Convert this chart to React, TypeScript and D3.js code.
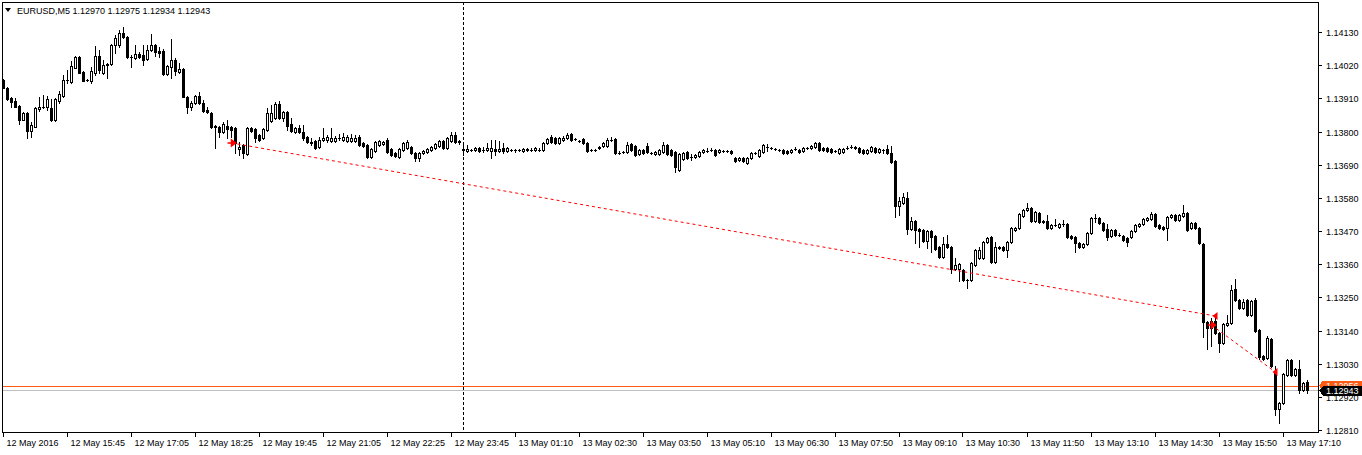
import React from "react";
import * as d3 from "d3";

const symbolTitle = "EURUSD,M5";
const titleValues = ["1.12970", "1.12975", "1.12934", "1.12943"];

// [open, high, low, close] for each M5 bar
const candles: [number, number, number, number][] = [
[1.13971,1.13974,1.13944,1.13944],[1.13944,1.13948,1.13904,1.13908],[1.13911,1.13914,1.13881,1.13898],[1.13901,1.13911,1.13881,1.13881],
[1.13885,1.13888,1.13825,1.13838],[1.13838,1.13865,1.13838,1.13861],[1.13861,1.13865,1.13778,1.13802],[1.13802,1.13832,1.13782,1.13822],
[1.13815,1.13881,1.13815,1.13878],[1.13875,1.13914,1.13868,1.13881],[1.13881,1.13921,1.13878,1.13881],[1.13881,1.13918,1.13871,1.13908],
[1.13878,1.13908,1.13835,1.13838],[1.13838,1.13911,1.13835,1.13908],[1.13901,1.13934,1.13895,1.13924],[1.13918,1.13987,1.13914,1.13971],
[1.13971,1.14004,1.13961,1.13971],[1.13964,1.14034,1.13961,1.14017],[1.14011,1.14050,1.14011,1.14047],[1.14047,1.14050,1.13994,1.13994],
[1.13997,1.14001,1.13967,1.13967],[1.13971,1.13974,1.13967,1.13971],[1.13967,1.14014,1.13961,1.14001],[1.13994,1.14084,1.13987,1.14050],
[1.14050,1.14070,1.13994,1.14004],[1.13994,1.14037,1.13991,1.14020],[1.14024,1.14027,1.13977,1.14020],[1.14024,1.14090,1.14020,1.14087],
[1.14087,1.14120,1.14060,1.14110],[1.14087,1.14137,1.14080,1.14127],[1.14127,1.14147,1.14110,1.14113],[1.14113,1.14117,1.14044,1.14047],
[1.14047,1.14054,1.14014,1.14047],[1.14044,1.14087,1.14040,1.14057],[1.14057,1.14064,1.14044,1.14047],[1.14054,1.14087,1.14020,1.14037],
[1.14040,1.14087,1.14037,1.14070],[1.14070,1.14123,1.14067,1.14087],[1.14087,1.14090,1.14050,1.14064],[1.14067,1.14080,1.14047,1.14060],
[1.14067,1.14074,1.13987,1.13991],[1.13991,1.14020,1.13987,1.14017],[1.14014,1.14107,1.13977,1.14037],[1.14037,1.14044,1.13987,1.14001],
[1.13997,1.14027,1.13994,1.14007],[1.14007,1.14011,1.13914,1.13914],[1.13914,1.13918,1.13861,1.13881],[1.13881,1.13901,1.13871,1.13895],
[1.13895,1.13921,1.13891,1.13918],[1.13918,1.13931,1.13891,1.13895],[1.13895,1.13904,1.13865,1.13868],[1.13871,1.13881,1.13861,1.13865],
[1.13861,1.13865,1.13812,1.13815],[1.13818,1.13822,1.13745,1.13815],[1.13815,1.13818,1.13782,1.13798],[1.13798,1.13832,1.13795,1.13825],
[1.13818,1.13838,1.13778,1.13808],[1.13815,1.13818,1.13782,1.13805],[1.13812,1.13815,1.13729,1.13762],[1.13742,1.13765,1.13722,1.13749],
[1.13755,1.13759,1.13712,1.13729],[1.13725,1.13815,1.13722,1.13812],[1.13812,1.13815,1.13798,1.13802],[1.13808,1.13812,1.13765,1.13778],
[1.13788,1.13792,1.13768,1.13772],[1.13778,1.13812,1.13775,1.13808],[1.13805,1.13878,1.13802,1.13861],[1.13835,1.13888,1.13832,1.13861],
[1.13845,1.13898,1.13841,1.13891],[1.13891,1.13901,1.13841,1.13845],[1.13845,1.13868,1.13835,1.13865],[1.13865,1.13868,1.13805,1.13818],
[1.13825,1.13845,1.13798,1.13802],[1.13798,1.13815,1.13795,1.13812],[1.13812,1.13822,1.13795,1.13798],[1.13798,1.13822,1.13772,1.13778],
[1.13782,1.13785,1.13762,1.13765],[1.13765,1.13778,1.13755,1.13762],[1.13768,1.13772,1.13742,1.13745],[1.13749,1.13782,1.13745,1.13772],
[1.13772,1.13812,1.13768,1.13778],[1.13772,1.13788,1.13765,1.13782],[1.13768,1.13812,1.13765,1.13778],[1.13768,1.13785,1.13765,1.13778],
[1.13778,1.13792,1.13772,1.13778],[1.13772,1.13795,1.13768,1.13782],[1.13768,1.13788,1.13765,1.13782],[1.13768,1.13792,1.13765,1.13778],
[1.13768,1.13788,1.13765,1.13778],[1.13782,1.13788,1.13752,1.13755],[1.13762,1.13765,1.13749,1.13752],[1.13755,1.13759,1.13712,1.13715],
[1.13715,1.13745,1.13712,1.13742],[1.13735,1.13768,1.13732,1.13765],[1.13755,1.13772,1.13752,1.13768],[1.13759,1.13768,1.13755,1.13765],
[1.13772,1.13778,1.13729,1.13732],[1.13742,1.13745,1.13719,1.13722],[1.13729,1.13732,1.13715,1.13719],[1.13715,1.13745,1.13712,1.13742],
[1.13739,1.13765,1.13735,1.13762],[1.13745,1.13772,1.13742,1.13765],[1.13749,1.13752,1.13725,1.13729],[1.13729,1.13732,1.13702,1.13712],
[1.13712,1.13732,1.13702,1.13729],[1.13729,1.13739,1.13725,1.13735],[1.13732,1.13745,1.13729,1.13742],[1.13739,1.13752,1.13735,1.13749],
[1.13745,1.13762,1.13742,1.13759],[1.13752,1.13772,1.13749,1.13768],[1.13768,1.13772,1.13742,1.13745],[1.13745,1.13782,1.13742,1.13778],
[1.13768,1.13798,1.13765,1.13788],[1.13788,1.13798,1.13762,1.13765],[1.13768,1.13772,1.13759,1.13765],[1.13742,1.13755,1.13722,1.13739],
[1.13735,1.13755,1.13732,1.13742],[1.13739,1.13742,1.13735,1.13739],[1.13739,1.13749,1.13735,1.13745],[1.13745,1.13749,1.13732,1.13735],
[1.13739,1.13749,1.13732,1.13739],[1.13739,1.13762,1.13735,1.13745],[1.13735,1.13772,1.13712,1.13745],[1.13742,1.13772,1.13722,1.13735],
[1.13735,1.13768,1.13732,1.13742],[1.13745,1.13762,1.13729,1.13735],[1.13735,1.13749,1.13732,1.13745],[1.13739,1.13742,1.13735,1.13739],
[1.13739,1.13742,1.13732,1.13739],[1.13739,1.13742,1.13735,1.13739],[1.13735,1.13745,1.13732,1.13742],[1.13739,1.13745,1.13735,1.13742],
[1.13739,1.13745,1.13735,1.13739],[1.13739,1.13749,1.13735,1.13745],[1.13739,1.13745,1.13735,1.13739],[1.13739,1.13765,1.13735,1.13762],
[1.13762,1.13778,1.13759,1.13775],[1.13782,1.13788,1.13762,1.13765],[1.13778,1.13782,1.13759,1.13762],[1.13762,1.13782,1.13759,1.13778],
[1.13772,1.13785,1.13768,1.13778],[1.13778,1.13795,1.13775,1.13788],[1.13792,1.13795,1.13768,1.13772],[1.13775,1.13778,1.13772,1.13775],
[1.13768,1.13772,1.13765,1.13768],[1.13775,1.13778,1.13759,1.13762],[1.13762,1.13765,1.13732,1.13735],[1.13739,1.13742,1.13735,1.13739],
[1.13739,1.13742,1.13735,1.13739],[1.13745,1.13752,1.13742,1.13749],[1.13752,1.13765,1.13749,1.13762],[1.13752,1.13778,1.13749,1.13772],
[1.13772,1.13782,1.13768,1.13772],[1.13775,1.13778,1.13725,1.13729],[1.13729,1.13735,1.13725,1.13729],[1.13732,1.13735,1.13729,1.13732],
[1.13732,1.13765,1.13729,1.13755],[1.13759,1.13762,1.13735,1.13739],[1.13752,1.13755,1.13719,1.13722],[1.13725,1.13742,1.13722,1.13739],
[1.13739,1.13742,1.13725,1.13729],[1.13752,1.13762,1.13729,1.13732],[1.13729,1.13732,1.13725,1.13729],[1.13725,1.13735,1.13722,1.13732],
[1.13725,1.13742,1.13722,1.13739],[1.13732,1.13765,1.13729,1.13755],[1.13755,1.13759,1.13722,1.13725],[1.13739,1.13742,1.13719,1.13722],
[1.13732,1.13735,1.13666,1.13682],[1.13672,1.13729,1.13669,1.13725],[1.13709,1.13732,1.13705,1.13729],[1.13732,1.13735,1.13709,1.13712],
[1.13715,1.13725,1.13705,1.13715],[1.13715,1.13725,1.13712,1.13722],[1.13719,1.13735,1.13715,1.13732],[1.13732,1.13742,1.13729,1.13739],
[1.13735,1.13745,1.13732,1.13735],[1.13739,1.13745,1.13735,1.13739],[1.13739,1.13742,1.13719,1.13722],[1.13732,1.13742,1.13729,1.13739],
[1.13735,1.13739,1.13732,1.13735],[1.13735,1.13739,1.13732,1.13735],[1.13735,1.13739,1.13725,1.13729],[1.13712,1.13715,1.13699,1.13702],
[1.13705,1.13715,1.13702,1.13712],[1.13712,1.13715,1.13699,1.13702],[1.13696,1.13715,1.13692,1.13712],[1.13712,1.13732,1.13709,1.13729],
[1.13729,1.13732,1.13725,1.13729],[1.13719,1.13742,1.13715,1.13739],[1.13732,1.13759,1.13729,1.13755],[1.13749,1.13759,1.13735,1.13749],
[1.13745,1.13749,1.13742,1.13745],[1.13742,1.13745,1.13739,1.13742],[1.13739,1.13742,1.13735,1.13739],[1.13739,1.13742,1.13725,1.13729],
[1.13735,1.13739,1.13725,1.13729],[1.13732,1.13742,1.13729,1.13739],[1.13742,1.13749,1.13739,1.13742],[1.13739,1.13742,1.13729,1.13732],
[1.13735,1.13749,1.13732,1.13745],[1.13745,1.13749,1.13742,1.13745],[1.13745,1.13755,1.13742,1.13752],[1.13749,1.13765,1.13745,1.13762],
[1.13762,1.13765,1.13735,1.13739],[1.13745,1.13749,1.13735,1.13739],[1.13745,1.13749,1.13732,1.13735],[1.13742,1.13745,1.13729,1.13732],
[1.13735,1.13739,1.13732,1.13735],[1.13729,1.13745,1.13725,1.13742],[1.13732,1.13745,1.13729,1.13742],[1.13745,1.13752,1.13742,1.13745],
[1.13749,1.13755,1.13745,1.13749],[1.13749,1.13752,1.13742,1.13745],[1.13745,1.13749,1.13729,1.13732],[1.13739,1.13742,1.13725,1.13729],
[1.13729,1.13742,1.13725,1.13739],[1.13735,1.13752,1.13732,1.13749],[1.13745,1.13749,1.13729,1.13732],[1.13732,1.13745,1.13729,1.13742],
[1.13739,1.13742,1.13729,1.13739],[1.13742,1.13755,1.13725,1.13729],[1.13729,1.13752,1.13696,1.13699],[1.13702,1.13705,1.13516,1.13553],
[1.13553,1.13583,1.13523,1.13569],[1.13563,1.13596,1.13559,1.13583],[1.13579,1.13599,1.13460,1.13477],[1.13477,1.13516,1.13473,1.13503],
[1.13503,1.13506,1.13430,1.13473],[1.13477,1.13480,1.13417,1.13470],[1.13473,1.13477,1.13434,1.13437],[1.13437,1.13473,1.13414,1.13470],
[1.13470,1.13473,1.13400,1.13450],[1.13454,1.13457,1.13407,1.13410],[1.13417,1.13420,1.13381,1.13384],[1.13384,1.13450,1.13381,1.13427],
[1.13427,1.13457,1.13414,1.13417],[1.13417,1.13420,1.13331,1.13344],[1.13344,1.13381,1.13341,1.13357],[1.13344,1.13364,1.13304,1.13361],
[1.13341,1.13344,1.13304,1.13307],[1.13307,1.13311,1.13281,1.13307],[1.13307,1.13367,1.13304,1.13364],[1.13357,1.13410,1.13354,1.13407],
[1.13381,1.13417,1.13377,1.13407],[1.13381,1.13437,1.13377,1.13434],[1.13434,1.13450,1.13430,1.13447],[1.13450,1.13454,1.13364,1.13367],
[1.13367,1.13434,1.13364,1.13417],[1.13414,1.13420,1.13410,1.13417],[1.13417,1.13420,1.13404,1.13407],[1.13407,1.13437,1.13384,1.13434],
[1.13434,1.13483,1.13430,1.13480],[1.13473,1.13483,1.13470,1.13480],[1.13480,1.13530,1.13477,1.13526],[1.13520,1.13543,1.13516,1.13540],
[1.13540,1.13563,1.13536,1.13546],[1.13546,1.13550,1.13500,1.13503],[1.13503,1.13536,1.13500,1.13533],[1.13530,1.13533,1.13497,1.13500],
[1.13503,1.13506,1.13497,1.13500],[1.13503,1.13523,1.13477,1.13480],[1.13480,1.13493,1.13477,1.13490],[1.13490,1.13510,1.13487,1.13490],
[1.13483,1.13497,1.13480,1.13493],[1.13493,1.13506,1.13487,1.13493],[1.13493,1.13497,1.13447,1.13450],[1.13454,1.13457,1.13444,1.13447],
[1.13450,1.13454,1.13400,1.13430],[1.13430,1.13434,1.13414,1.13417],[1.13417,1.13430,1.13414,1.13427],[1.13427,1.13467,1.13424,1.13464],
[1.13464,1.13516,1.13460,1.13513],[1.13513,1.13526,1.13500,1.13513],[1.13513,1.13516,1.13493,1.13497],[1.13497,1.13500,1.13470,1.13473],
[1.13477,1.13493,1.13440,1.13450],[1.13454,1.13477,1.13450,1.13473],[1.13473,1.13477,1.13454,1.13457],[1.13457,1.13464,1.13454,1.13457],
[1.13454,1.13457,1.13437,1.13440],[1.13447,1.13450,1.13420,1.13434],[1.13450,1.13473,1.13447,1.13470],[1.13470,1.13493,1.13467,1.13490],
[1.13487,1.13497,1.13483,1.13493],[1.13493,1.13513,1.13490,1.13510],[1.13506,1.13516,1.13503,1.13513],[1.13510,1.13533,1.13506,1.13526],
[1.13526,1.13530,1.13483,1.13487],[1.13490,1.13493,1.13477,1.13480],[1.13483,1.13487,1.13473,1.13477],[1.13480,1.13520,1.13440,1.13516],
[1.13516,1.13526,1.13513,1.13523],[1.13523,1.13526,1.13503,1.13506],[1.13506,1.13526,1.13503,1.13523],[1.13520,1.13556,1.13516,1.13530],
[1.13530,1.13533,1.13470,1.13473],[1.13480,1.13500,1.13477,1.13497],[1.13497,1.13500,1.13477,1.13480],[1.13480,1.13483,1.13427,1.13430],
[1.13427,1.13430,1.13118,1.13168],[1.13168,1.13171,1.13079,1.13148],[1.13148,1.13181,1.13088,1.13171],[1.13171,1.13185,1.13128,1.13132],
[1.13132,1.13135,1.13069,1.13098],[1.13098,1.13165,1.13095,1.13161],[1.13158,1.13191,1.13155,1.13165],[1.13165,1.13291,1.13161,1.13274],
[1.13277,1.13311,1.13238,1.13241],[1.13241,1.13244,1.13211,1.13215],[1.13215,1.13244,1.13211,1.13234],[1.13241,1.13244,1.13188,1.13191],
[1.13191,1.13241,1.13188,1.13238],[1.13241,1.13248,1.13135,1.13138],[1.13142,1.13145,1.13045,1.13052],[1.13055,1.13059,1.13042,1.13045],
[1.13049,1.13122,1.13045,1.13115],[1.13112,1.13115,1.13019,1.13022],[1.12999,1.13022,1.12859,1.12879],[1.12879,1.12903,1.12833,1.12899],
[1.12899,1.12999,1.12896,1.12996],[1.12992,1.13045,1.12989,1.13042],[1.13042,1.13045,1.12989,1.12992],[1.12992,1.13015,1.12989,1.13012],
[1.13012,1.13042,1.12933,1.12943],[1.12943,1.12969,1.12939,1.12966],[1.12970,1.12975,1.12934,1.12943]
];

const priceTicks = [1.1413, 1.1402, 1.1391, 1.138, 1.1369, 1.1358, 1.1347, 1.1336, 1.1325, 1.1314, 1.1303, 1.1292, 1.1281];

const timeLabels = [
  "12 May 2016", "12 May 15:45", "12 May 17:05", "12 May 18:25", "12 May 19:45", "12 May 21:05",
  "12 May 22:25", "12 May 23:45", "13 May 01:10", "13 May 02:30", "13 May 03:50", "13 May 05:10",
  "13 May 06:30", "13 May 07:50", "13 May 09:10", "13 May 10:30", "13 May 11:50", "13 May 13:10",
  "13 May 14:30", "13 May 15:50", "13 May 17:10"
];
const timeLabelBars = [0, 16, 32, 48, 64, 80, 96, 112, 128, 144, 160, 176, 192, 208, 224, 240, 256, 272, 288, 304, 320];

const separatorBar = 115;

const trades = [
  { openBar: 57, openPrice: 1.13762, closeBar: 303, closePrice: 1.13188 },
  { openBar: 302, openPrice: 1.13158, closeBar: 318, closePrice: 1.13002 },
];

const bidPrice = 1.12943;
const levelPrice = 1.12956;

const W = 1362;
const H = 455;
const plotLeft = 2;
const plotRight = 1318;
const plotTop = 2;
const plotBottom = 432;
const FONT = "'Liberation Sans', Arial, sans-serif";

export default function App() {
  const x = d3.scaleLinear().domain([0, candles.length - 1]).range([3.5, 3.5 + 4 * (candles.length - 1)]);
  const y = d3.scaleLinear().domain([1.1281, 1.1413]).range([430, 32]);
  const ry = (p: number) => Math.round(y(p));

  const bidY = ry(bidPrice) + 0.5;
  const levelY = ry(levelPrice) + 0.5;

  return (
    <svg width={W} height={H} style={{ position: "absolute", left: 0, top: 0, display: "block", background: "#fff" }}
      shapeRendering="crispEdges" fontFamily={FONT}>
      <rect x={0} y={0} width={W} height={H} fill="#fff" />
      {/* period separator */}
      <line x1={x(separatorBar) - 0.5} x2={x(separatorBar) - 0.5} y1={plotTop} y2={plotBottom} stroke="#000" strokeDasharray="3,2" />
      {/* level lines */}
      <line x1={plotLeft} x2={plotRight} y1={levelY} y2={levelY} stroke="#FF5A14" />
      <line x1={plotLeft} x2={plotRight} y1={bidY} y2={bidY} stroke="#C0C0C0" />
      {/* candles */}
      {candles.map(([o, h, l, c], i) => {
        const cx = x(i);
        const left = cx - 1.5;
        const yo = ry(o), yc = ry(c), yh = ry(h), yl = ry(l);
        const top = Math.min(yo, yc), bot = Math.max(yo, yc);
        const bull = c > o;
        return (
          <g key={i}>
            <line x1={cx} x2={cx} y1={yh} y2={yl + 1} stroke="#000" />
            {bot - top < 1 ? (
              <line x1={left} x2={left + 3} y1={top + 0.5} y2={top + 0.5} stroke="#000" />
            ) : bull ? (
              <rect x={left + 0.5} y={top + 0.5} width={2} height={bot - top} fill="#fff" stroke="#000" />
            ) : (
              <rect x={left} y={top} width={3} height={bot - top + 1} fill="#000" />
            )}
          </g>
        );
      })}
      {/* trade lines */}
      {trades.map((t, i) => (
        <line key={"t" + i} x1={x(t.openBar)} y1={y(t.openPrice)} x2={x(t.closeBar)} y2={y(t.closePrice)}
          stroke="#FF0000" strokeDasharray="3,3" shapeRendering="auto" />
      ))}
      {trades.map((t, i) => {
        const ox = x(t.openBar), oy = y(t.openPrice);
        const cx = x(t.closeBar), cy = y(t.closePrice);
        return (
          <g key={"m" + i} shapeRendering="auto">
            <path d={`M${ox - 4},${oy} L${ox + 1},${oy} M${ox + 4},${oy} L${ox},${oy - 3} L${ox},${oy + 3} Z`} stroke="#FF0000" fill="#FF0000" strokeWidth={1.5} />
            <path d={`M${cx + 2},${cy - 4} L${cx + 2},${cy + 4} L${cx - 3},${cy} Z`} fill="#FF0000" />
          </g>
        );
      })}
      {/* frame */}
      <rect x={plotLeft + 0.5} y={plotTop + 0.5} width={plotRight - plotLeft} height={plotBottom - plotTop} fill="none" stroke="#000" />
      {/* price axis */}
      {priceTicks.map((p, i) => {
        const ty = ry(p) + 0.5;
        return (
          <g key={"p" + i}>
            <line x1={plotRight} x2={plotRight + 4} y1={ty} y2={ty} stroke="#000" />
            <text x={1326} y={ty + 3.5} fontSize={9} fill="#000">{p.toFixed(5)}</text>
          </g>
        );
      })}
      {/* level label (orange), mostly hidden behind the bid label */}
      <path d={`M${plotRight + 1},${levelY - 1} L${plotRight + 5},${levelY - 6} L${W},${levelY - 6} L${W},${levelY + 5} L${plotRight + 5},${levelY + 5} Z`} fill="#FF5A14" />
      <text x={1326} y={levelY + 2.5} fontSize={9} fill="#fff">{levelPrice.toFixed(5)}</text>
      {/* bid label (black) */}
      <path d={`M${plotRight + 1},${bidY} L${plotRight + 5},${bidY - 4.5} L${W},${bidY - 4.5} L${W},${bidY + 5} L${plotRight + 5},${bidY + 5} Z`} fill="#000" />
      <text x={1326} y={bidY + 3.5} fontSize={9} fill="#fff">{bidPrice.toFixed(5)}</text>
      {/* time axis */}
      {timeLabelBars.map((b, i) => {
        const tx = Math.round(x(b)) - 0.5;
        return (
          <g key={"x" + i}>
            <line x1={tx} x2={tx} y1={plotBottom} y2={plotBottom + 5} stroke="#000" />
            <text x={tx + 3} y={446} fontSize={9} fill="#000">{timeLabels[i]}</text>
          </g>
        );
      })}
      {/* title */}
      <path d="M5,8 L11,8 L8,12 Z" fill="#000" shapeRendering="auto" />
      <text x={17} y={14} fontSize={9} fill="#000">{symbolTitle + "  " + titleValues.join(" ")}</text>
    </svg>
  );
}
